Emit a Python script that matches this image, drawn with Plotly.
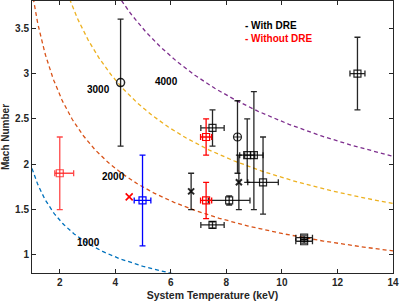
import numpy as np
import plotly.graph_objects as go

# Shock velocity curves (km/s)
curve_velocities = [1000, 2000, 3000, 4000]
curve_colors = ["#0072BD", "#D95319", "#EDB120", "#7E2F8E"]
sound_speed_1keV = 512.0  # km/s per sqrt(keV)
curve_label_x = [3.05, 3.95, 3.41, 5.86]
curve_label_y = [1.14, 1.865, 2.82, 2.91]

# With DRE: black squares
sq_x = [7.5, 8.75, 8.99, 9.32, 8.1, 7.5, 10.8, 10.8, 12.72]
sq_y = [2.4, 2.1, 2.1, 1.8, 1.6, 1.33, 1.19, 1.15, 3.0]
sq_xerr = [0.42, 0.27, 0.33, 0.55, 0.75, 0.42, 0.3, 0.3, 0.27]
sq_yerr_p = [0.2, 0.4, 0.7, 0.5, 0.05, 0.035, 0.02, 0.02, 0.4]
sq_yerr_m = [0.2, 0.3, 0.6, 0.35, 0.05, 0.035, 0.02, 0.02, 0.4]

# With DRE: black circles
circ_x = [4.19]
circ_y = [2.9]
circ_yerr = [0.7]
circx_x = [8.4]
circx_y = [2.3]
circx_yerr = [0.4]

# With DRE: black crosses
cross_x = [6.73, 8.45]
cross_y = [1.7, 1.8]
cross_yerr = [0.2, 0.3]

# Without DRE: red
red_sq_x = [7.27, 7.27]
red_sq_y = [2.3, 1.6]
red_sq_xerr = [0.2, 0.2]
red_sq_yerr = [0.2, 0.2]
red_light_x = [2.0]
red_light_y = [1.9]
red_light_xerr_p = [0.5]
red_light_xerr_m = [0.18]
red_light_yerr = [0.4]
red_cross_x = [4.5]
red_cross_y = [1.64]

# Blue point
blue_x = [4.98]
blue_y = [1.6]
blue_xerr = [0.3]
blue_yerr = [0.5]

fig = go.Figure()

T = np.linspace(1, 14, 400)
for v, c in zip(curve_velocities, curve_colors):
    M = v / (sound_speed_1keV * np.sqrt(T))
    fig.add_trace(go.Scatter(x=T, y=M, mode="lines",
                             line=dict(color=c, width=1.3, dash="4px,3px"),
                             hoverinfo="skip", showlegend=False))

BLK = "rgba(0,0,0,0.85)"
CW = 3
TH = 1.3

def eb(arr, arrm=None, color=BLK):
    d = dict(type="data", array=arr, color=color, thickness=TH, width=CW, visible=True)
    if arrm is not None:
        d["symmetric"] = False
        d["arrayminus"] = arrm
    return d

fig.add_trace(go.Scatter(x=sq_x, y=sq_y, mode="markers",
                         marker=dict(symbol="square-open", size=7, color=BLK, line=dict(width=1.2)),
                         error_x=eb(sq_xerr), error_y=eb(sq_yerr_p, sq_yerr_m), showlegend=False))
fig.add_trace(go.Scatter(x=circ_x, y=circ_y, mode="markers",
                         marker=dict(symbol="circle-open", size=8, color=BLK, line=dict(width=1.5)),
                         error_y=eb(circ_yerr), showlegend=False))
fig.add_trace(go.Scatter(x=circx_x, y=circx_y, mode="markers",
                         marker=dict(symbol="circle-cross-open", size=8, color=BLK, line=dict(width=1.2)),
                         error_y=eb(circx_yerr), showlegend=False))
fig.add_trace(go.Scatter(x=cross_x, y=cross_y, mode="markers",
                         marker=dict(symbol="x-thin-open", size=6, color=BLK, line=dict(width=2, color=BLK)),
                         error_y=eb(cross_yerr), showlegend=False))

RED = "#FF0000"
LRED = "rgba(255,40,40,0.85)"
fig.add_trace(go.Scatter(x=red_sq_x, y=red_sq_y, mode="markers",
                         marker=dict(symbol="square-open", size=7, color=RED, line=dict(width=1.2)),
                         error_x=eb(red_sq_xerr, color=RED), error_y=eb(red_sq_yerr, color=RED),
                         showlegend=False))
fig.add_trace(go.Scatter(x=red_light_x, y=red_light_y, mode="markers",
                         marker=dict(symbol="square-open", size=7, color=LRED, line=dict(width=1.2)),
                         error_x=eb(red_light_xerr_p, red_light_xerr_m, color=LRED),
                         error_y=eb(red_light_yerr, color=LRED), showlegend=False))
fig.add_trace(go.Scatter(x=red_cross_x, y=red_cross_y, mode="markers",
                         marker=dict(symbol="x-thin-open", size=7, color=RED, line=dict(width=1.6, color=RED)),
                         showlegend=False))

BLUE = "#0000FF"
fig.add_trace(go.Scatter(x=blue_x, y=blue_y, mode="markers",
                         marker=dict(symbol="square-open", size=7, color=BLUE, line=dict(width=1.2)),
                         error_x=eb(blue_xerr, color=BLUE), error_y=eb(blue_yerr, color=BLUE),
                         showlegend=False))

FONT = "Liberation Sans"
for v, lx, ly in zip(curve_velocities, curve_label_x, curve_label_y):
    fig.add_annotation(x=lx, y=ly, text=f"<b>{v}</b>", showarrow=False,
                       font=dict(family=FONT, size=10, color="black"))

fig.add_annotation(x=8.6, y=3.535, text="<b>- With DRE</b>", showarrow=False, xanchor="left",
                   font=dict(family=FONT, size=10, color="black"))
fig.add_annotation(x=8.6, y=3.39, text="<b>- Without DRE</b>", showarrow=False, xanchor="left",
                   font=dict(family=FONT, size=10, color=RED))

axis_common = dict(showline=True, linecolor="#262626", linewidth=1, mirror="ticks",
                   ticks="inside", ticklen=4, tickcolor="#262626", showgrid=False, zeroline=False,
                   automargin=False,
                   tickfont=dict(family=FONT, size=10, color="#262626", weight="bold"))

fig.update_layout(
    width=403, height=301,
    margin=dict(l=32, r=10, t=1, b=28),
    paper_bgcolor="white", plot_bgcolor="white",
    xaxis=dict(range=[1, 14], tick0=2, dtick=2,
               title=dict(text="<b>System Temperature (keV)</b>",
                          font=dict(family=FONT, size=10.5, color="#262626")),
               **axis_common),
    yaxis=dict(range=[0.8, 3.8], tick0=1, dtick=0.5,
               title=dict(text="<b>Mach Number</b>",
                          font=dict(family=FONT, size=10, color="#262626")),
               **axis_common),
)

fig.write_html("out.html", config={"displayModeBar": False},
               post_script="document.body.style.margin='0';document.body.style.overflow='hidden';")
